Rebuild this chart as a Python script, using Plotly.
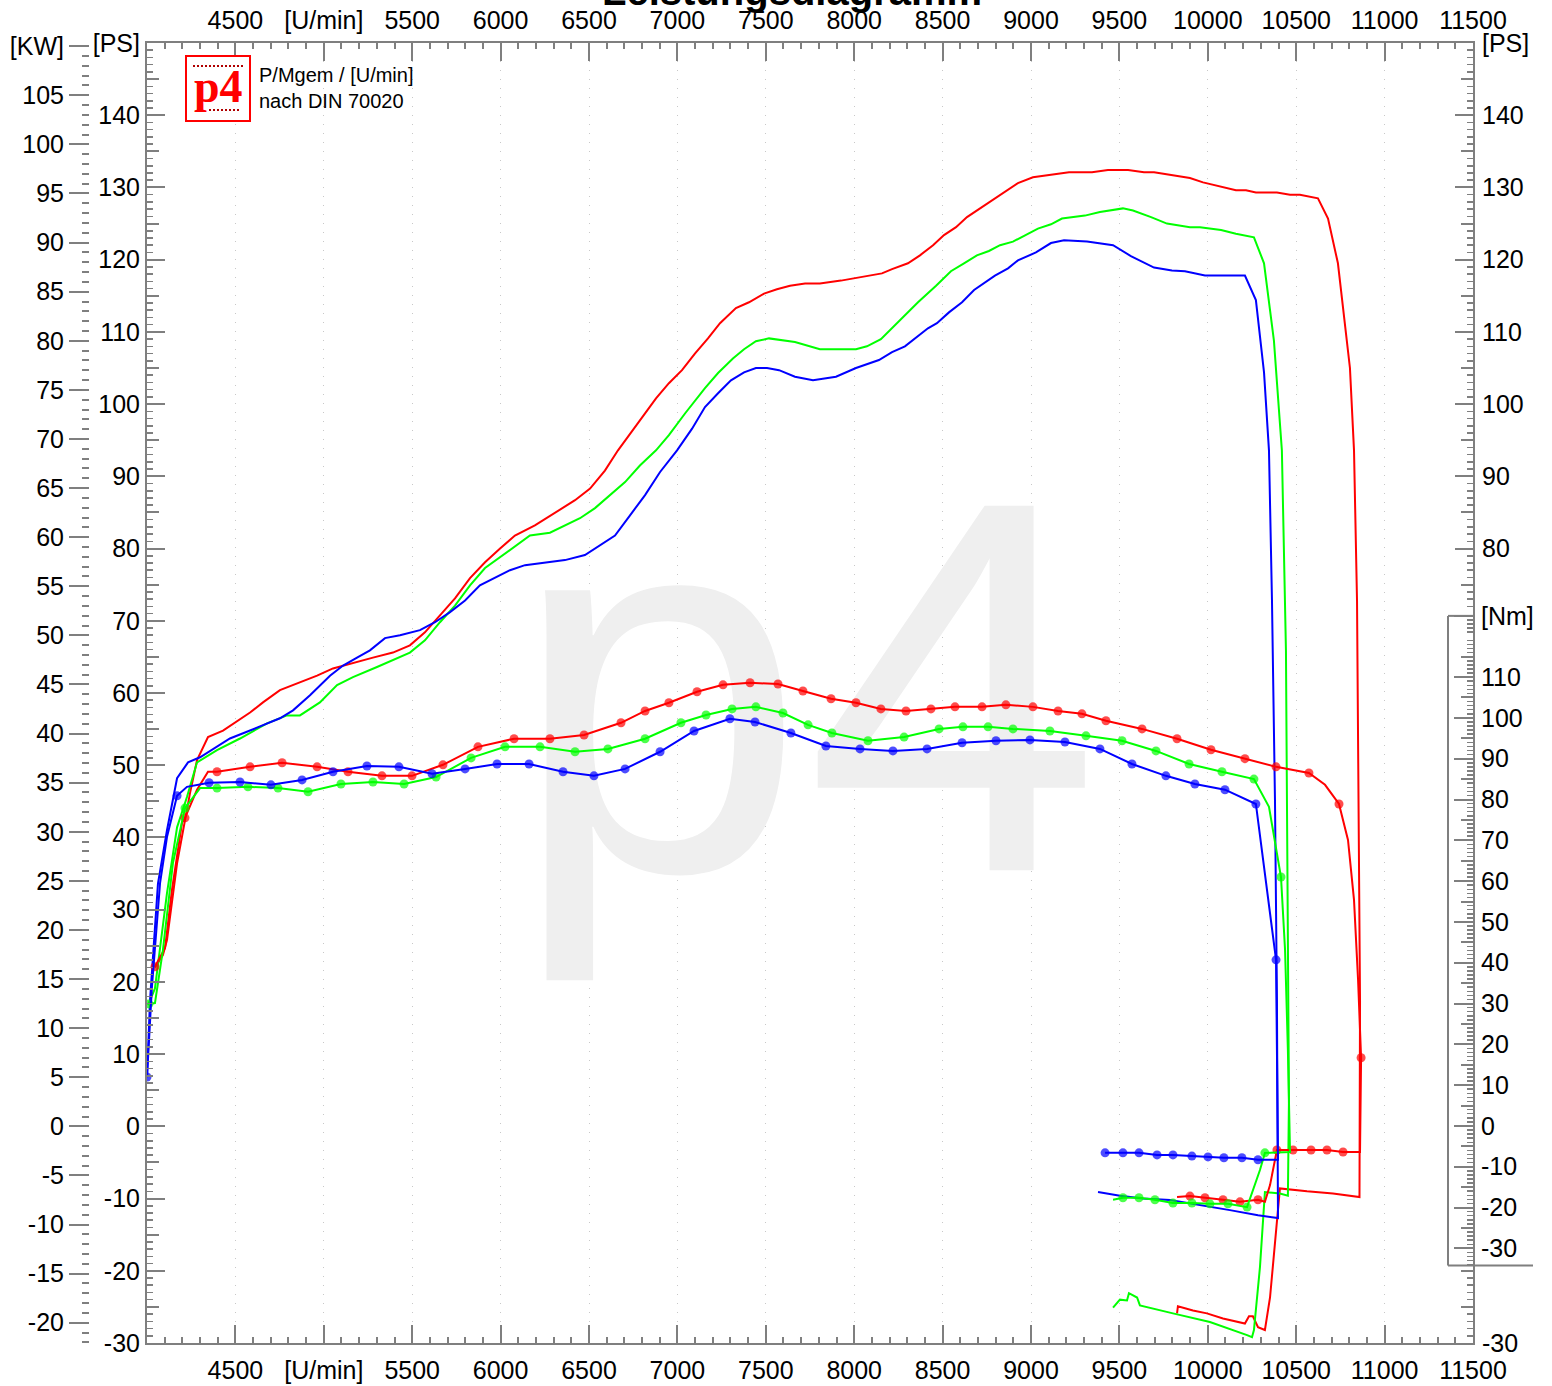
import plotly.graph_objects as go

# ---------------- data (rpm, PS, Nm) ----------------
RPM_RANGE = [4000, 11500]
PS_RANGE = [-30, 150]
NM_RANGE = [-53.2, 265.4]
KW_PER_PS = 0.73549875

red_power_rpm = [4045, 4090, 4113, 4170, 4243, 4283, 4345, 4430, 4583, 4656, 4752, 4865, 4962, 5052, 5165, 5278,
                 5391, 5487, 5572, 5657, 5742, 5827, 5912, 5997, 6081, 6194, 6308, 6421, 6506, 6590, 6664, 6749,
                 6811, 6879, 6952, 7026, 7099, 7173, 7241, 7331, 7405, 7490, 7563, 7637, 7722, 7806, 7925, 8044,
                 8157, 8214, 8304, 8372, 8446, 8508, 8576, 8638, 8723, 8796, 8870, 8926, 9011, 9113, 9215, 9345,
                 9435, 9549, 9639, 9696, 9797, 9899, 9973, 10029, 10103, 10159, 10216, 10272, 10391, 10465, 10521,
                 10623, 10680, 10736, 10804, 10827, 10844, 10855, 10861, 10858, 10708, 10561, 10408, 10352, 10323,
                 10284, 10255, 10233, 10210, 10086, 9995, 9916, 9831, 9826]
red_power_ps = [22.0, 23.7, 25.8, 36.4, 46.1, 50.7, 53.9, 54.8, 57.3, 58.7, 60.4, 61.5, 62.4, 63.4, 64.2, 64.9,
                65.6, 66.6, 68.4, 70.8, 73.1, 75.9, 78.1, 80.0, 81.8, 83.2, 84.9, 86.7, 88.3, 90.8, 93.6, 96.4,
                98.4, 100.8, 102.9, 104.7, 107.0, 109.1, 111.2, 113.3, 114.1, 115.3, 115.9, 116.4, 116.7, 116.7,
                117.1, 117.6, 118.1, 118.7, 119.5, 120.6, 122.0, 123.4, 124.5, 125.9, 127.3, 128.5, 129.6, 130.6,
                131.4, 131.7, 132.1, 132.1, 132.4, 132.4, 132.1, 132.1, 131.7, 131.3, 130.7, 130.4, 129.9, 129.6,
                129.6, 129.3, 129.3, 129.0, 129.0, 128.5, 125.7, 119.5, 105.0, 93.6, 72.8, 38.2, 17.4, -9.8, -9.3,
                -9.0, -8.6, -23.7, -28.2, -27.8, -26.3, -26.3, -27.3, -26.6, -25.9, -25.5, -24.9, -25.9]

green_power_rpm = [4006, 4045, 4113, 4170, 4226, 4283, 4396, 4526, 4679, 4792, 4865, 4978, 5075, 5165, 5301, 5414,
                   5487, 5572, 5657, 5742, 5827, 5912, 5997, 6081, 6166, 6279, 6364, 6449, 6534, 6619, 6704, 6788,
                   6879, 6952, 7043, 7156, 7230, 7314, 7377, 7444, 7518, 7665, 7806, 8010, 8072, 8151, 8259, 8361,
                   8463, 8547, 8621, 8694, 8762, 8825, 8898, 8972, 9039, 9113, 9175, 9305, 9390, 9520, 9577, 9679,
                   9769, 9899, 9956, 10075, 10159, 10261, 10318, 10374, 10419, 10442, 10453, 10459, 10453, 10408,
                   10323, 10295, 10261, 10250, 10222, 10012, 9803, 9616, 9600, 9554, 9543, 9503, 9464]
green_power_ps = [16.8, 19.1, 32.3, 41.4, 45.6, 50.4, 52.1, 53.7, 55.8, 56.9, 56.9, 58.7, 61.1, 62.2, 63.6, 64.8,
                  65.6, 67.3, 69.8, 72.1, 74.9, 77.3, 78.8, 80.4, 81.8, 82.2, 83.2, 84.2, 85.6, 87.4, 89.2, 91.5,
                  93.6, 95.7, 98.7, 102.2, 104.3, 106.3, 107.6, 108.7, 109.1, 108.6, 107.6, 107.6, 108.0, 109.0,
                  111.6, 114.1, 116.4, 118.4, 119.5, 120.6, 121.2, 122.0, 122.5, 123.5, 124.3, 124.9, 125.7, 126.1,
                  126.6, 127.1, 126.8, 125.9, 125.0, 124.5, 124.5, 124.1, 123.6, 123.1, 119.5, 108.8, 93.6, 65.9,
                  31.3, 3.6, -9.6, -9.3, -9.1, -19.5, -28.2, -29.2, -28.9, -27.1, -25.9, -24.8, -23.7, -23.1,
                  -24.1, -24.0, -25.1]

blue_power_rpm = [4000, 4017, 4062, 4113, 4170, 4232, 4300, 4469, 4622, 4752, 4826, 4922, 5035, 5109, 5188, 5261,
                  5346, 5431, 5544, 5629, 5714, 5799, 5883, 5968, 6053, 6138, 6251, 6364, 6477, 6562, 6647, 6732,
                  6817, 6902, 6998, 7083, 7156, 7230, 7303, 7377, 7444, 7507, 7575, 7665, 7767, 7897, 8010, 8140,
                  8214, 8287, 8344, 8417, 8468, 8536, 8610, 8678, 8796, 8870, 8926, 9028, 9113, 9187, 9317, 9464,
                  9565, 9696, 9797, 9871, 9984, 10210, 10272, 10318, 10346, 10363, 10380, 10391, 10397, 10284,
                  10125, 9956, 9786, 9633, 9503, 9379]
blue_power_ps = [6.8, 17.4, 33.6, 41.0, 48.2, 50.4, 51.1, 53.7, 55.2, 56.5, 57.6, 59.7, 62.4, 63.8, 64.9, 65.9,
                 67.6, 68.0, 68.7, 69.8, 71.2, 72.8, 74.9, 76.0, 77.0, 77.7, 78.1, 78.4, 79.1, 80.4, 81.8, 84.6,
                 87.4, 90.6, 93.6, 96.6, 99.6, 101.5, 103.3, 104.4, 105.0, 105.0, 104.7, 103.8, 103.3, 103.8,
                 105.0, 106.1, 107.2, 108.0, 109.1, 110.5, 111.2, 112.7, 114.1, 115.8, 117.8, 118.8, 119.9, 121.0,
                 122.3, 122.7, 122.5, 122.0, 120.5, 118.9, 118.5, 118.4, 117.8, 117.8, 114.4, 104.4, 93.6, 72.8,
                 45.1, 17.4, -12.7, -12.3, -11.6, -10.9, -10.2, -10.0, -9.6, -9.1]

# torque: rpm, Nm, and whether the point carries a measurement dot (1) or not (0)
red_torque_rpm = [4045, 4102, 4141, 4198, 4215, 4283, 4345, 4396, 4583, 4764, 4962, 5137, 5329, 5499, 5674, 5872,
                  6076, 6279, 6472, 6681, 6817, 6952, 7111, 7258, 7411, 7569, 7710, 7869, 8010, 8151, 8293, 8434,
                  8570, 8723, 8858, 9011, 9153, 9288, 9424, 9628, 9826, 10018, 10210, 10386, 10572, 10663, 10742,
                  10793, 10827, 10850, 10867, 10861, 10765, 10674, 10584, 10482, 10391, 10352, 10323, 10284, 10182,
                  10086, 9984, 9899, 9826]
red_torque_nm = [39.0, 43.6, 57.8, 74.3, 75.5, 82.4, 86.8, 86.8, 88.0, 89.0, 88.0, 86.8, 85.8, 85.8, 88.5, 92.9,
                 94.9, 94.9, 95.8, 98.8, 101.7, 103.7, 106.4, 108.1, 108.6, 108.3, 106.6, 104.7, 103.7, 102.2,
                 101.7, 102.2, 102.7, 102.7, 103.2, 102.7, 101.7, 101.0, 99.3, 97.3, 94.9, 92.2, 90.0, 88.0, 86.5,
                 83.6, 78.9, 70.1, 55.4, 35.8, 16.7, -6.4, -6.4, -5.9, -5.9, -5.9, -5.9, -14.5, -18.6, -18.1,
                 -18.6, -18.1, -17.6, -17.2, -17.4]
red_torque_dot = [1, 0, 0, 0, 1, 0, 0, 1, 1, 1, 1, 1, 1, 1, 1, 1,
                  1, 1, 1, 1, 1, 1, 1, 1, 1, 1, 1, 1, 1, 1, 1, 1,
                  1, 1, 1, 1, 1, 1, 1, 1, 1, 1, 1, 1, 1, 0, 1,
                  0, 0, 0, 1, 0, 1, 1, 1, 1, 1, 0, 0, 1, 1,
                  1, 1, 1, 0]

green_torque_rpm = [4011, 4045, 4090, 4147, 4215, 4300, 4396, 4571, 4741, 4911, 5097, 5278, 5454, 5635, 5833, 6025,
                    6223, 6421, 6607, 6817, 7020, 7162, 7309, 7444, 7597, 7739, 7874, 8078, 8282, 8480, 8615, 8757,
                    8898, 9107, 9311, 9515, 9707, 9894, 10080, 10261, 10346, 10380, 10414, 10437, 10453, 10465,
                    10323, 10295, 10222, 10114, 10012, 9910, 9803, 9701, 9611, 9520, 9464]
green_torque_nm = [29.9, 30.1, 43.1, 64.5, 77.9, 82.8, 82.8, 83.1, 82.8, 81.9, 83.8, 84.3, 83.8, 85.5, 90.2, 92.9,
                   92.9, 91.7, 92.4, 94.9, 98.8, 100.7, 102.2, 102.7, 101.2, 98.3, 96.3, 94.4, 95.3, 97.3, 97.8,
                   97.8, 97.3, 96.8, 95.6, 94.4, 91.9, 88.7, 86.8, 85.0, 78.2, 70.1, 61.0, 43.1, 18.6, -6.4,
                   -6.6, -10.8, -19.9, -19.1, -19.1, -18.9, -18.9, -18.1, -17.6, -17.6, -18.1]
green_torque_dot = [1, 0, 0, 0, 1, 0, 1, 1, 1, 1, 1, 1, 1, 1, 1, 1,
                    1, 1, 1, 1, 1, 1, 1, 1, 1, 1, 1, 1, 1, 1, 1, 1,
                    1, 1, 1, 1, 1, 1, 1, 1, 0, 0, 1, 0, 0, 0,
                    1, 0, 1, 1, 1, 1, 1, 1, 1, 1, 0]

blue_torque_rpm = [4000, 4028, 4074, 4113, 4170, 4226, 4351, 4526, 4701, 4877, 5052, 5244, 5425, 5612, 5799, 5980,
                   6161, 6353, 6528, 6704, 6902, 7094, 7297, 7439, 7642, 7840, 8033, 8219, 8412, 8610, 8802, 8994,
                   9192, 9390, 9571, 9763, 9927, 10097, 10272, 10306, 10340, 10386, 10391, 10397, 10284, 10193,
                   10091, 10001, 9910, 9803, 9713, 9611, 9520, 9419]
blue_torque_nm = [12.0, 34.1, 59.6, 70.8, 80.9, 83.1, 84.1, 84.3, 83.6, 84.8, 86.8, 88.2, 88.0, 86.3, 87.5, 88.7,
                  88.7, 86.8, 85.8, 87.5, 91.7, 96.8, 99.8, 99.0, 96.3, 93.1, 92.4, 91.9, 92.4, 93.9, 94.4, 94.6,
                  94.1, 92.4, 88.7, 85.8, 83.8, 82.4, 78.9, 67.6, 55.4, 40.7, 18.6, -8.3, -8.3, -7.8,
                  -7.8, -7.6, -7.4, -7.1, -7.1, -6.6, -6.6, -6.6]
blue_torque_dot = [1, 0, 0, 0, 1, 0, 1, 1, 1, 1, 1, 1, 1, 1, 1, 1,
                   1, 1, 1, 1, 1, 1, 1, 1, 1, 1, 1, 1, 1, 1, 1, 1,
                   1, 1, 1, 1, 1, 1, 1, 0, 0, 1, 0, 0, 1, 1,
                   1, 1, 1, 1, 1, 1, 1, 1]

x_major = list(range(4500, 11501, 500))
x_text = ['[U/min]' if v == 5000 else str(v) for v in x_major]
ps_major = list(range(-30, 151, 10))
ps_text = ['[PS]' if v == 150 else str(v) for v in ps_major]
ps_right_major = [-30] + list(range(80, 151, 10))
ps_right_text = ['[PS]' if v == 150 else str(v) for v in ps_right_major]
kw_major = list(range(-20, 111, 5))
kw_text = ['[KW]' if v == 110 else str(v) for v in kw_major]
nm_major = list(range(-30, 111, 10)) + [125]
nm_text = ['[Nm]' if v == 125 else str(v) for v in nm_major]

RED, GREEN, BLUE = '#ff0000', '#00ff00', '#0000ff'

# ---------------- geometry ----------------
W, H = 1552, 1386
ML, MR, MT, MB = 40, 79, 43, 43
PW = W - ML - MR
PH = H - MT - MB


def fx(px):
    return (px - ML) / PW


def fy(py):
    return (H - MB - py) / PH


GRAY = '#7f7f7f'
FONT = 'Liberation Sans, Arial, Helvetica, sans-serif'
TICKFONT = dict(family=FONT, size=25, color='black')


def n(a, b):
    m = min(len(a), len(b))
    return a[:m], b[:m]


fig = go.Figure()

# watermark (drawn first so that curves lie above it)
fig.add_trace(go.Scatter(x=[7725], y=[53.8], mode='text', text=['p4'],
                         textfont=dict(family=FONT, size=530, color='#efefef'),
                         hoverinfo='skip', showlegend=False))

for rpm, ps, col in [(red_power_rpm, red_power_ps, RED), (green_power_rpm, green_power_ps, GREEN),
                     (blue_power_rpm, blue_power_ps, BLUE)]:
    xx, yy = n(rpm, ps)
    fig.add_trace(go.Scatter(x=xx, y=yy, mode='lines', line=dict(color=col, width=2),
                             hoverinfo='skip', showlegend=False, xaxis='x', yaxis='y'))

for rpm, nm, dots, col in [(red_torque_rpm, red_torque_nm, red_torque_dot, RED),
                           (green_torque_rpm, green_torque_nm, green_torque_dot, GREEN),
                           (blue_torque_rpm, blue_torque_nm, blue_torque_dot, BLUE)]:
    xx, yy = n(rpm, nm)
    sizes = [(9 if (i < len(dots) and dots[i]) else 0) for i in range(len(xx))]
    fig.add_trace(go.Scatter(x=xx, y=yy, mode='lines+markers', line=dict(color=col, width=2),
                             marker=dict(color=col, size=sizes, line=dict(width=0)),
                             hoverinfo='skip', showlegend=False, xaxis='x', yaxis='y4'))

# invisible anchor traces so that every scale axis is drawn
for xa, ya in [('x2', 'y'), ('x', 'y2'), ('x', 'y3'), ('x', 'y5'), ('x', 'y6'), ('x', 'y7')]:
    fig.add_trace(go.Scatter(x=[RPM_RANGE[0]], y=[0], mode='markers',
                             marker=dict(size=1, color='rgba(0,0,0,0)'),
                             hoverinfo='skip', showlegend=False, xaxis=xa, yaxis=ya))

common_x = dict(range=RPM_RANGE, tickmode='array', tickvals=x_major, ticktext=x_text, ticks='inside',
                ticklen=18, tickwidth=2, tickcolor=GRAY, showline=True, linecolor=GRAY, linewidth=2,
                tickfont=TICKFONT, zeroline=False, fixedrange=True, automargin=False,
                minor=dict(tickmode='array', tickvals=[v for v in range(4100, 11500, 100) if v % 500],
                           ticks='inside', ticklen=6, tickwidth=2, tickcolor=GRAY, showgrid=False))


def yax(rng, **kw):
    d = dict(range=rng, tickmode='array', showgrid=False, zeroline=False, fixedrange=True,
             tickcolor=GRAY, tickwidth=2, tickfont=TICKFONT, automargin=False)
    d.update(kw)
    return d


minor_style = dict(tickmode='array', ticks='inside', ticklen=6, tickwidth=1.5, tickcolor=GRAY, showgrid=False)

fig.update_layout(
    template='none',
    width=W, height=H, margin=dict(l=ML, r=MR, t=MT, b=MB, pad=0),
    paper_bgcolor='white', plot_bgcolor='white', showlegend=False,
    font=dict(family=FONT, color='black'),
    xaxis=dict(**common_x, domain=[fx(147), 1], anchor='y', side='bottom', ticklabelstandoff=4,
               showgrid=True, gridcolor='#c8c8c8', griddash='1px,8px', gridwidth=1),
    xaxis2=dict(**common_x, overlaying='x', anchor='y', side='top', showgrid=False, ticklabelstandoff=2),
    # PS left
    yaxis=yax(PS_RANGE, anchor='x', side='left', tickvals=ps_major, ticktext=ps_text, ticks='inside',
              ticklen=18, showline=True, linecolor=GRAY, linewidth=2, ticklabelstandoff=0,
              minor=dict(minor_style, tickvals=[v for v in range(-29, 150) if v % 5])),
    yaxis5=yax(PS_RANGE, overlaying='y', anchor='x', side='left', tickvals=list(range(-25, 150, 10)),
               ticks='inside', ticklen=12, showticklabels=False, showline=False),
    # KW
    yaxis2=yax([v * KW_PER_PS for v in PS_RANGE], overlaying='y', anchor='free', position=fx(89), side='left',
               tickvals=kw_major, ticktext=kw_text, ticks='outside', ticklen=20, showline=False,
               minor=dict(tickmode='array', tickvals=[v for v in range(-22, 111) if v % 5], ticks='outside',
                          ticklen=7, tickwidth=2, tickcolor=GRAY, showgrid=False)),
    # PS right
    yaxis3=yax(PS_RANGE, overlaying='y', anchor='x', side='right', tickvals=ps_right_major,
               ticktext=ps_right_text, ticks='inside', ticklen=18, showline=True, linecolor=GRAY, linewidth=2,
               ticklabelstandoff=2,
               minor=dict(minor_style, tickvals=[v for v in range(-29, -19) if v % 5] +
                          [v for v in range(72, 150) if v % 5])),
    yaxis6=yax(PS_RANGE, overlaying='y', anchor='x', side='right',
               tickvals=[-25, -20] + list(range(75, 150, 10)), ticks='inside', ticklen=12,
               showticklabels=False, showline=False),
    # Nm right
    yaxis4=yax(NM_RANGE, overlaying='y', anchor='x', side='right', tickvals=nm_major, ticktext=nm_text,
               ticks='inside', ticklen=19, showline=False, ticklabelstandoff=7,
               minor=dict(minor_style, tickvals=[v for v in range(-34, 125) if v % 5])),
    yaxis7=yax(NM_RANGE, overlaying='y', anchor='x', side='right', tickvals=list(range(-25, 121, 10)),
               ticks='inside', ticklen=12, showticklabels=False, showline=False),
)

shapes = [
    # Nm scale box
    dict(type='line', xref='paper', yref='y4', x0=fx(1448), x1=fx(1448), y0=125, y1=-34.2,
         line=dict(color=GRAY, width=2)),
    dict(type='line', xref='paper', yref='y4', x0=fx(1448), x1=1, y0=125, y1=125,
         line=dict(color=GRAY, width=2)),
    dict(type='line', xref='paper', yref='y4', x0=fx(1448), x1=fx(1533), y0=-34.2, y1=-34.2,
         line=dict(color=GRAY, width=2)),
    # logo box
    dict(type='rect', xref='paper', yref='paper', x0=fx(186), x1=fx(250), y0=fy(121), y1=fy(56),
         line=dict(color=RED, width=2), fillcolor='white'),
    # tiny dotted print inside the logo
    dict(type='line', xref='paper', yref='paper', x0=fx(193), x1=fx(243), y0=fy(66), y1=fy(66),
         line=dict(color='#b00000', width=2, dash='2px,2px')),
    dict(type='line', xref='paper', yref='paper', x0=fx(209), x1=fx(240), y0=fy(110), y1=fy(110),
         line=dict(color='#b00000', width=2, dash='2px,2px')),
]
fig.update_layout(shapes=shapes)

ann = [
    dict(text='<b>Leistungsdiagramm</b>', x=fx(792), y=fy(-9), xref='paper', yref='paper',
         showarrow=False, xanchor='center', yanchor='middle', font=dict(family=FONT, size=40, color='black')),
    dict(text='<b>p4</b>', x=fx(218), y=fy(86), xref='paper', yref='paper', showarrow=False,
         xanchor='center', yanchor='middle',
         font=dict(family='Liberation Serif, Times New Roman, serif', size=46, color=RED)),
    dict(text='P/Mgem / [U/min]', x=fx(257), y=fy(75), xref='paper', yref='paper', showarrow=False,
         xanchor='left', yanchor='middle', font=dict(family=FONT, size=20, color='black')),
    dict(text='nach DIN 70020', x=fx(257), y=fy(101), xref='paper', yref='paper', showarrow=False,
         xanchor='left', yanchor='middle', font=dict(family=FONT, size=20, color='black')),
]
fig.update_layout(annotations=ann)

fig.write_html("out.html", include_plotlyjs=True, full_html=True,
               config={'displayModeBar': False, 'staticPlot': True},
               post_script="document.body.style.margin='0px';")
